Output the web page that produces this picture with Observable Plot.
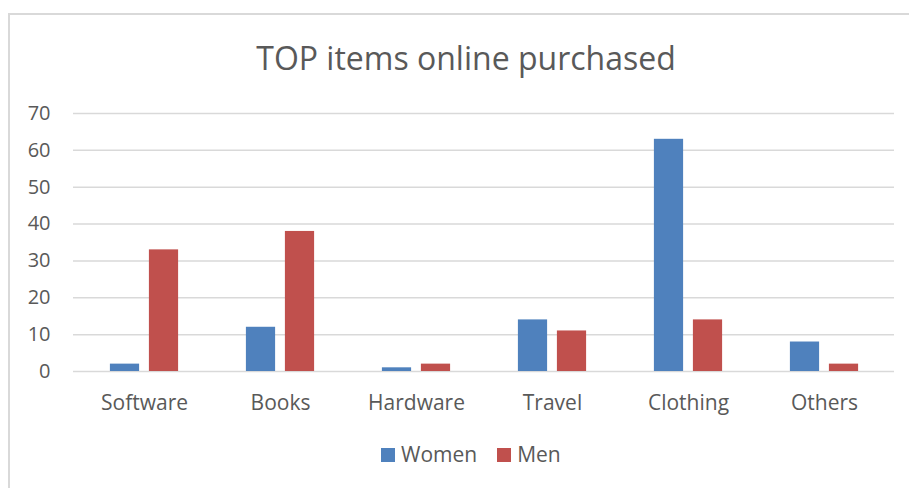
<!DOCTYPE html>
<html>
<head>
<meta charset="utf-8">
<script src="https://cdn.jsdelivr.net/npm/d3@7"></script>
<script src="https://cdn.jsdelivr.net/npm/@observablehq/plot@0.6"></script>
<style>
  html, body { margin: 0; padding: 0; background: #fff; }
  body { width: 909px; height: 488px; position: relative; overflow: hidden; font-family: "Open Sans", sans-serif; color: #595959; }
  #frame { position: absolute; left: 8px; top: 13px; width: 910px; height: 480px; border-left: 2px solid #d9d9d9; border-top: 2px solid #d9d9d9; box-sizing: border-box; }
  #title { position: absolute; left: 0; width: 932px; top: 42px; text-align: center; font-size: 32px; line-height: 32px; color: #595959; }
  #chart { position: absolute; left: 0; top: 90px; }
  #legend { position: absolute; left: 381px; top: 444px; display: flex; align-items: center; font-size: 21px; line-height: 21px; color: #595959; }
  .sw { width: 14px; height: 14px; display: inline-block; margin-right: 6px; }
  .item { display: flex; align-items: center; margin-right: 20px; }
</style>
</head>
<body>
<div id="frame"></div>
<div id="title">TOP items online purchased</div>
<div id="chart"></div>
<div id="legend"></div>
<script>
const categories = ["Software", "Books", "Hardware", "Travel", "Clothing", "Others"];
const women = [2, 12, 1, 14, 63, 8];
const men = [33, 38, 2, 11, 14, 2];
const seriesNames = ["Women", "Men"];
const seriesColors = ["#4f81bd", "#c0504d"];
const yTicks = [0, 10, 20, 30, 40, 50, 60, 70];

const womenData = categories.map((c, i) => ({category: c, value: women[i]}));
const menData = categories.map((c, i) => ({category: c, value: men[i]}));

const plot = Plot.plot({
  width: 909,
  height: 340,
  marginLeft: 73,
  marginRight: 15,
  marginTop: 23,
  marginBottom: 59,
  style: { fontFamily: "Open Sans, sans-serif", color: "#595959", background: "transparent" },
  x: { domain: categories, padding: 0, label: null },
  y: { domain: [0, 70], label: null },
  marks: [
    Plot.ruleY(yTicks, { stroke: "#d9d9d9", strokeWidth: 1.5 }),
    Plot.barY(womenData, { x: "category", y: "value", fill: seriesColors[0], insetLeft: 53.4, insetRight: 53.4, dx: -19.5 }),
    Plot.barY(menData, { x: "category", y: "value", fill: seriesColors[1], insetLeft: 53.4, insetRight: 53.4, dx: 19.5 }),
    Plot.axisY({ ticks: yTicks, tickSize: 0, tickPadding: 23, fontSize: 20, label: null, fill: "#595959" }),
    Plot.axisX({ tickSize: 0, tickPadding: 24, fontSize: 21, label: null, fill: "#595959" })
  ]
});
document.getElementById("chart").appendChild(plot);

const legend = document.getElementById("legend");
seriesNames.forEach((name, i) => {
  const item = document.createElement("div");
  item.className = "item";
  const sw = document.createElement("span");
  sw.className = "sw";
  sw.style.background = seriesColors[i];
  const t = document.createElement("span");
  t.textContent = name;
  item.appendChild(sw);
  item.appendChild(t);
  legend.appendChild(item);
});
</script>
</body>
</html>
